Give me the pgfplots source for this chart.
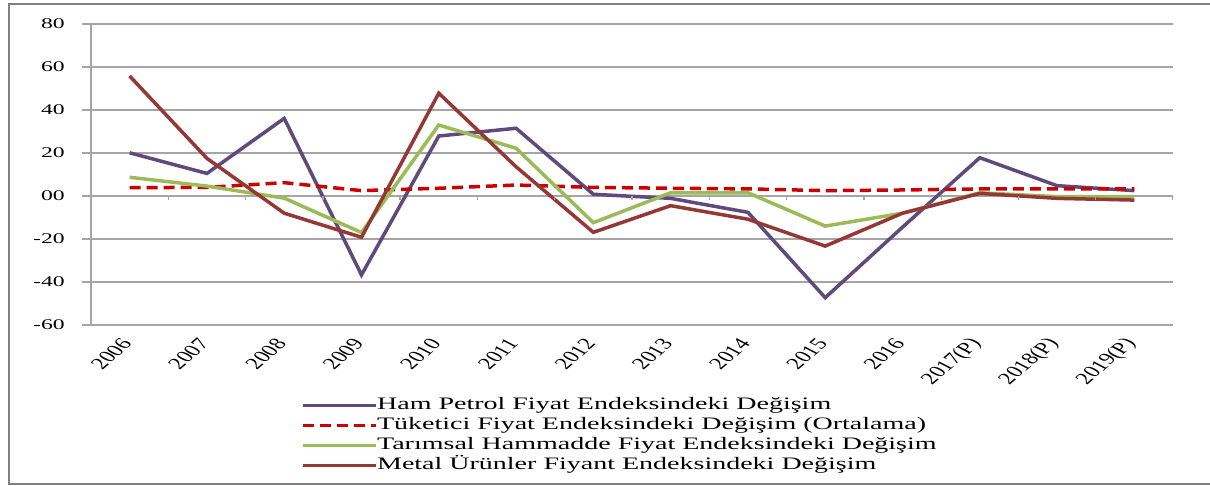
\documentclass[border=0pt]{standalone}
\usepackage{fontspec}
\setmainfont{Liberation Serif}
\newfontfamily\wide[FakeStretch=1.6]{Liberation Serif}
\usepackage{pgfplots}
\pgfplotsset{compat=1.18}
\definecolor{cPur}{RGB}{96,74,123}
\definecolor{cRed}{RGB}{204,0,0}
\definecolor{cGrn}{RGB}{155,187,89}
\definecolor{cBrn}{RGB}{149,55,53}
\definecolor{cGrid}{RGB}{165,165,165}
\definecolor{cFrame}{RGB}{128,128,128}
\begin{document}
\begin{tikzpicture}
\useasboundingbox (0,0) rectangle (1210pt,486pt);
\draw[cFrame, line width=2pt] (1212pt,482pt) -- (9pt,482pt) -- (9pt,2pt) -- (1212pt,2pt);
\begin{axis}[
  at={(91pt,161pt)}, anchor=south west,
  scale only axis, width=1082pt, height=301pt,
  xmin=-0.5, xmax=13.5, ymin=-60, ymax=80,
  xtick={0,1,2,3,4,5,6,7,8,9,10,11,12,13},
  xticklabels={2006,2007,2008,2009,2010,2011,2012,2013,2014,2015,2016,2017(P),2018(P),2019(P)},
  ytick={-60,-40,-20,0,20,40,60,80},
  yticklabels={-60,-40,-20,00,20,40,60,80},
  axis x line*=bottom, axis y line*=left,
  axis line style={cGrid, line width=1.3pt, -},
  ymajorgrids, grid style={cGrid, line width=1.3pt},
  tick align=outside, major tick length=9pt,
  xtick style={draw=none},
  ytick style={cGrid, line width=1.3pt},
  yticklabel style={font=\wide\fontsize{14.8}{16}\selectfont, inner sep=0pt, xshift=-17pt},
  xticklabel style={font=\fontsize{16.5}{17}\selectfont, inner sep=0pt, xshift=-3pt, yshift=-7pt, xscale=1.5, rotate=52, anchor=east},
  legend style={at={(0.1942,-0.236)}, anchor=north west, draw=none, fill=none,
    inner sep=0pt, outer sep=0pt, row sep=0pt,
    font=\wide\fontsize{17.5}{20}\selectfont,
    nodes={inner sep=0pt, text height=13.8pt, text depth=6pt},
    /tikz/every even column/.append style={column sep=11pt}},
  legend cell align=left,
  legend image code/.code={\draw[#1, line width=3pt] (0pt,0pt) -- (73pt,0pt);},
]
\addplot[cPur, line width=3.5pt] coordinates {
 (0,20.1) (1,10.5) (2,36.1) (3,-36.7) (4,27.9) (5,31.5) (6,0.8) (7,-1.1)
 (8,-7.6) (9,-47.3) (10,-14.5) (11,17.8) (12,4.8) (13,2.5)};
\addlegendentry{Ham Petrol Fiyat Endeksindeki Değişim}
\addplot[cRed, line width=3.5pt, dash pattern=on 11pt off 6pt] coordinates {
 (0,3.9) (1,4.0) (2,6.2) (3,2.5) (4,3.6) (5,5.1) (6,4.0) (7,3.6)
 (8,3.3) (9,2.5) (10,2.8) (11,3.3) (12,3.3) (13,3.3)};
\addlegendentry{Tüketici Fiyat Endeksindeki Değişim (Ortalama)}
\addplot[cGrn, line width=3.5pt] coordinates {
 (0,8.7) (1,4.6) (2,-1.0) (3,-17.0) (4,33.0) (5,22.2) (6,-12.4) (7,1.5)
 (8,1.5) (9,-14.0) (10,-8.0) (11,1.5) (12,-0.3) (13,-0.3)};
\addlegendentry{Tarımsal Hammadde Fiyat Endeksindeki Değişim}
\addplot[cBrn, line width=3.5pt] coordinates {
 (0,55.8) (1,17.5) (2,-8.0) (3,-19.2) (4,47.8) (5,13.6) (6,-16.9) (7,-4.5)
 (8,-10.8) (9,-23.3) (10,-8.0) (11,1.2) (12,-1.1) (13,-1.9)};
\addlegendentry{Metal Ürünler Fiyant Endeksindeki Değişim}
\pgfplotsinvokeforeach{0.5,1.5,2.5,3.5,4.5,5.5,6.5,7.5,8.5,9.5,10.5,11.5,12.5,13.5}{
  \draw[cGrid, line width=1.3pt] (axis cs:#1,0) -- ++(0pt,-4.5pt);
}
\end{axis}
\end{tikzpicture}
\end{document}
